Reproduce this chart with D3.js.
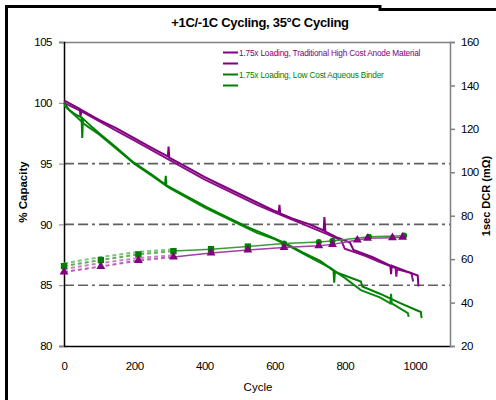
<!DOCTYPE html>
<html>
<head>
<meta charset="utf-8">
<script src="https://cdn.jsdelivr.net/npm/d3@7"></script>
<style>
  body { margin: 0; background: #fff; }
  text { font-family: "Liberation Sans", Arial, sans-serif; }
</style>
</head>
<body>
<div id="chart"></div>
<script>
// Width and height
var chart_width  = 496;
var chart_height = 400;

// axis ticks
var x_ticks     = [0, 200, 400, 600, 800, 1000];
var left_ticks  = [80, 85, 90, 95, 100, 105];
var right_ticks = [20, 40, 60, 80, 100, 120, 140, 160];
var grid_values = [85, 90, 95];

// legend entries
var legend_labels = ["1.75x Loading, Traditional High Cost Anode Material", "", "1.75x Loading, Low Cost Aqueous Binder", ""];
var legend_colors = ["#800080", "#800080", "#008000", "#008000"];

// capacity (% of initial), two cells per build
var purpleA_cycles = [0, 25, 45, 47, 50, 100, 150, 200, 250, 296, 298, 300, 350, 400, 450, 500, 550, 600, 612, 614, 616, 650, 700, 740, 742, 745, 780, 815, 825, 880, 930, 932, 934, 980, 1008, 1010];
var purpleA_cap    = [100.2, 99.8, 99.5, 98.9, 99.4, 98.6, 97.9, 97.1, 96.3, 95.6, 96.4, 95.5, 94.7, 93.9, 93.2, 92.5, 91.8, 91.1, 91.0, 91.6, 90.9, 90.5, 90.0, 89.5, 90.6, 89.4, 88.9, 88.5, 87.9, 87.3, 86.6, 85.9, 86.6, 86.1, 85.8, 84.9];
var purpleB_cycles = [0, 50, 100, 150, 200, 250, 300, 350, 400, 450, 500, 550, 600, 650, 700, 750, 790, 800, 860, 900, 945, 947, 949, 990, 995];
var purpleB_cap    = [100.0, 99.3, 98.5, 97.7, 96.9, 96.1, 95.3, 94.5, 93.7, 93.0, 92.3, 91.6, 91.0, 90.4, 89.8, 89.2, 88.7, 88.0, 87.4, 86.9, 86.4, 85.7, 86.3, 86.0, 85.3];
var greenA_cycles  = [0, 15, 35, 50, 52, 54, 80, 100, 150, 198, 250, 288, 290, 292, 350, 408, 450, 522, 580, 627, 680, 730, 768, 770, 772, 800, 846, 850, 900, 960, 1000, 1017, 1019];
var greenA_cap     = [100.0, 99.4, 99.0, 98.8, 97.1, 98.7, 98.0, 97.5, 96.3, 95.1, 94.1, 93.3, 94.0, 93.2, 92.3, 91.4, 90.8, 89.8, 89.1, 88.5, 87.7, 87.0, 86.2, 85.2, 86.1, 85.8, 85.3, 84.9, 84.3, 83.5, 83.0, 82.8, 82.3];
var greenB_cycles  = [0, 30, 60, 100, 150, 200, 250, 300, 350, 400, 450, 500, 550, 600, 650, 700, 760, 800, 846, 900, 930, 932, 934, 980, 982];
var greenB_cap     = [99.8, 99.0, 98.2, 97.4, 96.2, 95.0, 94.0, 93.0, 92.2, 91.4, 90.7, 90.0, 89.3, 88.8, 88.1, 87.3, 86.4, 85.6, 84.6, 84.0, 83.5, 84.3, 83.5, 82.7, 82.4];

// 1 sec DCR (mOhm)
var purple_dcr_cycles = [0, 105, 212, 312, 419, 524, 627, 726, 765, 836, 865, 936, 965];
var purple_dcr        = [54.1, 56.6, 59.4, 61.0, 62.8, 64.2, 65.4, 66.2, 66.8, 68.8, 69.6, 69.9, 70.1];
var green_dcr_cycles  = [0, 105, 212, 312, 419, 524, 627, 726, 765, 869, 969];
var green_dcr         = [56.8, 59.6, 62.2, 63.7, 64.6, 65.8, 67.2, 67.9, 68.4, 70.3, 70.8];
// second cell, early checkups only
var purple_dcr2_cycles = [0, 105, 212, 312];
var purple_dcr2        = [55.4, 58.2, 60.5, 61.8];
var green_dcr2_cycles  = [0, 105, 212, 312];
var green_dcr2         = [58.0, 61.0, 63.3, 64.5];

var svg = d3.select("#chart")
    .append("svg")
    .attr("width", chart_width)
    .attr("height", chart_height);

// outer frame (scanned look)
svg.append("line").attr("x1", 6.5).attr("x2", 6.5).attr("y1", 5).attr("y2", 400)
    .attr("stroke", "#000").attr("stroke-width", 3);
svg.append("path").attr("d", "M5,6.5H380V9.5H496")
    .attr("fill", "none").attr("stroke", "#000").attr("stroke-width", 3);

var x = d3.scaleLinear().domain([0, 1100]).range([64, 450]);
var yL = d3.scaleLinear().domain([80, 105]).range([346, 42]);
var yR = d3.scaleLinear().domain([20, 160]).range([346, 42]);

// plot box: grey top and right, black left and bottom
svg.append("line").attr("x1", 64).attr("x2", 450).attr("y1", 42.5).attr("y2", 42.5)
    .attr("stroke", "#808080").attr("stroke-width", 1.5);

// dash-dot grid lines
svg.selectAll(".grid")
    .data(grid_values)
    .enter()
    .append("line")
    .attr("x1", 64).attr("x2", 450)
    .attr("y1", function(d){ return yL(d); })
    .attr("y2", function(d){ return yL(d); })
    .attr("stroke", "#606060")
    .attr("stroke-width", 1.6)
    .attr("stroke-dasharray", "10,4,10,4,3,4");

// axes
var xAxis = svg.append("g").attr("transform", "translate(0,346)")
    .call(d3.axisBottom(x).tickValues(x_ticks).tickFormat(d3.format("d")).tickSize(0).tickPadding(16));
var lAxis = svg.append("g").attr("transform", "translate(64,0)")
    .call(d3.axisLeft(yL).tickValues(left_ticks).tickSize(5).tickPadding(7));
var rAxis = svg.append("g").attr("transform", "translate(450,0)")
    .call(d3.axisRight(yR).tickValues(right_ticks).tickSize(5).tickPadding(6));

xAxis.select(".domain").attr("stroke", "#000").attr("stroke-width", 1.5);
lAxis.select(".domain").attr("stroke", "#000").attr("stroke-width", 1.5);
rAxis.selectAll(".domain, line").attr("stroke", "#808080").attr("stroke-width", 1.5);
lAxis.selectAll("line").attr("stroke", "#808080");
svg.selectAll(".tick text")
    .attr("font-size", 11.5)
    .attr("fill", "#000")
    .style("letter-spacing", "-0.5px");

// capacity lines
var capLine = d3.line()
    .x(function(d){ return x(d[0]); })
    .y(function(d){ return yL(d[1]); });

function zip(a, b) { return a.map(function(v, i){ return [v, b[i]]; }); }

var cap_series = [
    {data: zip(purpleB_cycles, purpleB_cap), color: "#8a108a"},
    {data: zip(purpleA_cycles, purpleA_cap), color: "#800080"},
    {data: zip(greenB_cycles, greenB_cap),   color: "#0a8a0a"},
    {data: zip(greenA_cycles, greenA_cap),   color: "#008000"}
];

svg.selectAll(".cap")
    .data(cap_series)
    .enter()
    .append("path")
    .attr("d", function(d){ return capLine(d.data); })
    .attr("fill", "none")
    .attr("stroke", function(d){ return d.color; })
    .attr("stroke-width", 2);

// DCR lines and markers
var dcrLine = d3.line()
    .x(function(d){ return x(d[0]); })
    .y(function(d){ return yR(d[1]); });

var dcr_dashed = [
    {data: zip(green_dcr2_cycles, green_dcr2),   color: "#7cc47c"},
    {data: zip(purple_dcr2_cycles, purple_dcr2), color: "#c880c8"},
    {data: zip(green_dcr_cycles.slice(0, 4), green_dcr.slice(0, 4)),   color: "#5cb05c"},
    {data: zip(purple_dcr_cycles.slice(0, 4), purple_dcr.slice(0, 4)), color: "#b860b8"}
];
svg.selectAll(".dcrdash")
    .data(dcr_dashed)
    .enter()
    .append("path")
    .attr("d", function(d){ return dcrLine(d.data); })
    .attr("fill", "none")
    .attr("stroke", function(d){ return d.color; })
    .attr("stroke-width", 2)
    .attr("stroke-dasharray", "4,3");

var dcr_solid = [
    {data: zip(green_dcr_cycles.slice(3), green_dcr.slice(3)),   color: "#3c9c3c"},
    {data: zip(purple_dcr_cycles.slice(3), purple_dcr.slice(3)), color: "#a040a0"}
];
svg.selectAll(".dcrsolid")
    .data(dcr_solid)
    .enter()
    .append("path")
    .attr("d", function(d){ return dcrLine(d.data); })
    .attr("fill", "none")
    .attr("stroke", function(d){ return d.color; })
    .attr("stroke-width", 1.5);

// green markers: squares early, circles later
svg.selectAll(".gmark")
    .data(zip(green_dcr_cycles, green_dcr))
    .enter()
    .append("path")
    .attr("transform", function(d){ return "translate(" + x(d[0]) + "," + yR(d[1]) + ")"; })
    .attr("d", function(d, i){
        return d3.symbol().type(i < 6 ? d3.symbolSquare : d3.symbolCircle).size(i < 6 ? 40 : 30)();
    })
    .attr("fill", "#008000");

svg.selectAll(".pmark")
    .data(zip(purple_dcr_cycles, purple_dcr))
    .enter()
    .append("path")
    .attr("transform", function(d){ return "translate(" + x(d[0]) + "," + yR(d[1]) + ")"; })
    .attr("d", d3.symbol().type(d3.symbolTriangle).size(34))
    .attr("fill", "#800080");

// title and axis labels
svg.append("text")
    .attr("x", 260).attr("y", 27)
    .attr("text-anchor", "middle")
    .attr("font-size", 13).attr("font-weight", "bold")
    .style("letter-spacing", "-0.3px")
    .text("+1C/-1C Cycling, 35°C Cycling");

svg.append("text")
    .attr("x", 258).attr("y", 391)
    .attr("text-anchor", "middle")
    .attr("font-size", 11.5)
    .text("Cycle");

svg.append("text")
    .attr("transform", "translate(27,192) rotate(-90)")
    .attr("text-anchor", "middle")
    .attr("font-size", 11.5).attr("font-weight", "bold")
    .text("% Capacity");

svg.append("text")
    .attr("transform", "translate(490,196) rotate(-90)")
    .attr("text-anchor", "middle")
    .attr("font-size", 11).attr("font-weight", "bold")
    .text("1sec DCR (mΩ)");

// legend
var legend = svg.selectAll(".legend")
    .data(legend_labels)
    .enter()
    .append("g")
    .attr("transform", function(d, i){ return "translate(223," + (52.5 + i * 11) + ")"; });

legend.append("line")
    .attr("x1", 0).attr("x2", 15)
    .attr("stroke", function(d, i){ return legend_colors[i]; })
    .attr("stroke-width", 2);

legend.append("text")
    .attr("x", 16).attr("y", 3)
    .attr("font-size", 8.3)
    .attr("fill", function(d, i){ return legend_colors[i]; })
    .style("letter-spacing", "-0.2px")
    .text(function(d){ return d; });
</script>
</body>
</html>
